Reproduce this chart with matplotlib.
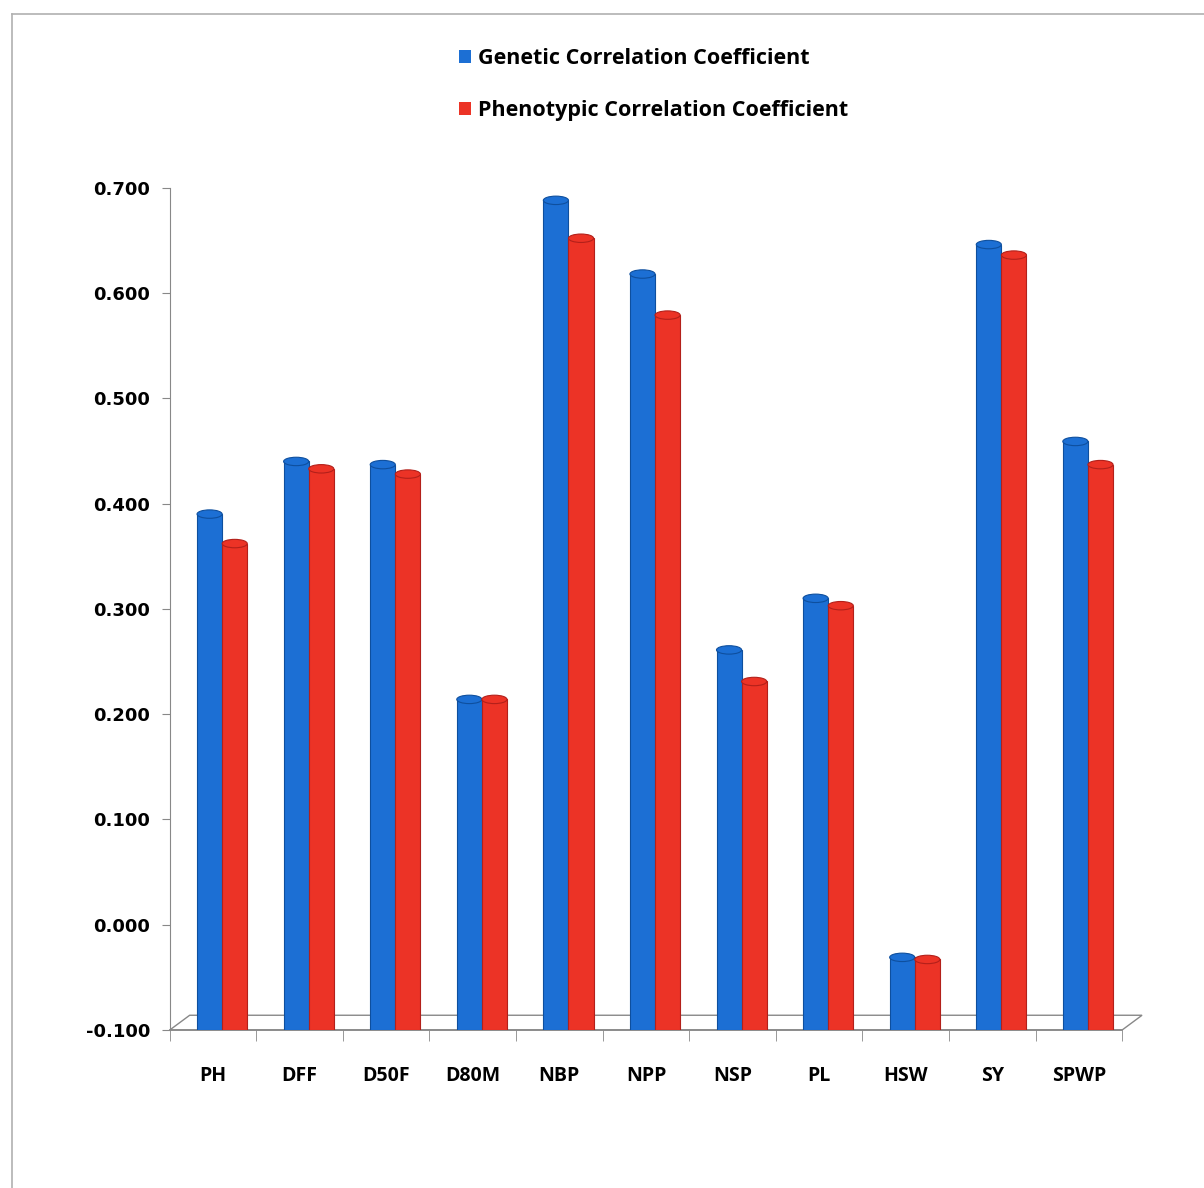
import matplotlib.pyplot as plt
import numpy as np
from matplotlib.patches import Ellipse, Polygon
from matplotlib.lines import Line2D

# Datos
rasgos = ['PH', 'DFF', 'D50F', 'D80M', 'NBP', 'NPP', 'NSP', 'PL', 'HSW', 'SY', 'SPWP']
genetico = [0.390, 0.440, 0.437, 0.214, 0.688, 0.618, 0.261, 0.310, -0.031, 0.646, 0.459]
fenotipico = [0.362, 0.433, 0.428, 0.214, 0.652, 0.579, 0.231, 0.303, -0.033, 0.636, 0.437]

azul = '#1c6fd4'
rojo = '#ec3326'
base = -0.100

plt.rcParams['font.family'] = ['Open Sans', 'DejaVu Sans']
plt.rcParams['font.weight'] = 'bold'

fig = plt.figure(figsize=(12.04, 11.88), dpi=100)
ax = fig.add_axes([0.141, 0.133, 0.791, 0.709])

x = np.arange(len(rasgos))
ancho = 0.29
pos_g = x - 0.04
pos_f = x + 0.25


def cilindros(posiciones, valores, color, oscuro):
    ax.bar(posiciones, np.array(valores) - base, bottom=base, width=ancho,
           color=color, edgecolor=oscuro, linewidth=0.8, zorder=3)
    for px, v in zip(posiciones, valores):
        ax.add_patch(Ellipse((px, v), ancho, 0.008, facecolor=color,
                             edgecolor=oscuro, linewidth=0.8, zorder=4))


cilindros(pos_g, genetico, azul, '#0e4f9e')
cilindros(pos_f, fenotipico, rojo, '#b3201a')

ax.set_xlim(-0.5, len(rasgos) - 0.5)
ax.set_ylim(base, 0.700)
ticks_y = np.arange(-0.1, 0.701, 0.1)
ax.set_yticks(ticks_y)
ax.set_yticklabels([f'{v:.3f}' for v in ticks_y], fontsize=13, fontweight='bold',
                   family='DejaVu Sans')
ax.set_xticks(x)
ax.set_xticklabels(rasgos, fontsize=14, fontweight='bold')
ax.tick_params(axis='x', length=0, pad=26)
ax.set_xticks(np.arange(-0.5, len(rasgos)), minor=True)
ax.tick_params(axis='x', which='minor', length=8, color='#888888')
ax.tick_params(axis='y', length=6, color='#888888', pad=8)

for lado in ['top', 'right', 'bottom']:
    ax.spines[lado].set_visible(False)
ax.spines['left'].set_color('#888888')

# Suelo en perspectiva
dx, dy = 0.23, 0.014
suelo = Polygon([[-0.5, base], [-0.5 + dx, base + dy], [10.5 + dx, base + dy], [10.5, base]],
                closed=True, facecolor='white', edgecolor='#888888', linewidth=1.0,
                clip_on=False, zorder=1)
ax.add_patch(suelo)
ax.plot([-0.5, 10.5], [base, base], color='#888888', linewidth=1.2, clip_on=False, zorder=2)

# Leyenda
ax.bar([0], [0], color=azul, label='Genetic Correlation Coefficient')
ax.bar([0], [0], color=rojo, label='Phenotypic Correlation Coefficient')
fig.legend(loc='upper center', bbox_to_anchor=(0.543, 0.976), frameon=False,
           prop={'size': 15.5, 'weight': 'bold'}, handlelength=0.55, handleheight=0.55,
           handletextpad=0.35, labelspacing=1.45)

# Marco del área del gráfico (solo izquierda y arriba visibles)
fig.lines.append(Line2D([0.010, 0.010], [0.0, 0.988], transform=fig.transFigure,
                        color='#b0b0b0', linewidth=1.2))
fig.lines.append(Line2D([0.010, 1.0], [0.988, 0.988], transform=fig.transFigure,
                        color='#b0b0b0', linewidth=1.2))

fig.savefig('out.png', dpi=100)
